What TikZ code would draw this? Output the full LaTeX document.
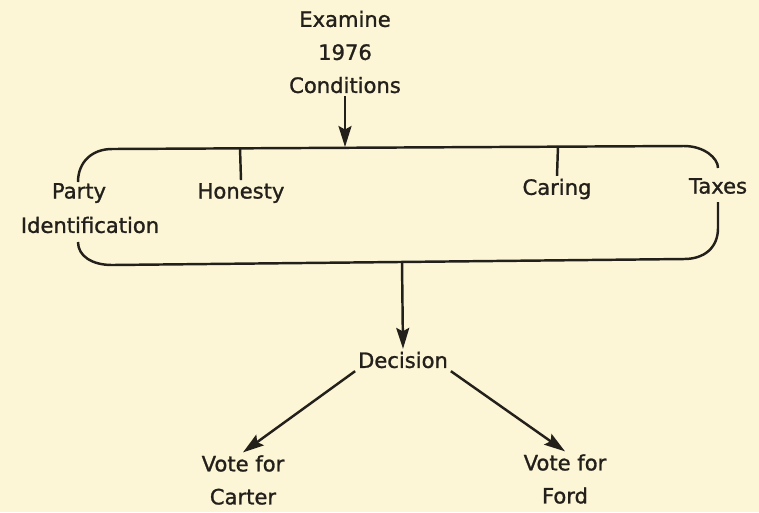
\documentclass[tikz,border=0pt]{standalone}
\usepackage{fontspec}
\setmainfont[FakeBold=1.2]{DejaVu Sans}
\usetikzlibrary{arrows.meta}
\definecolor{paper}{RGB}{252,246,214}
\definecolor{ink}{RGB}{35,32,28}
\begin{document}
\begin{tikzpicture}[x=0.02cm,y=-0.02cm,
  lbl/.style={font=\fontsize{12}{18.8}\selectfont, text=ink, inner sep=1.5pt, align=center},
  conn/.style={draw=ink, line width=1.4pt},
  arr/.style={conn, -{Stealth[length=4.2mm,width=2.6mm,inset=0.7mm]}}]
\fill[paper] (0,0) rectangle (759,512);
\useasboundingbox (0,0) rectangle (759,512);
% enclosing rounded outline, open where side labels interrupt it
\draw[conn] (78,182) .. controls (78,162) and (92,149) .. (112,149) -- (684,146)
  .. controls (704,146) and (718,158) .. (718,168);
\draw[conn] (718,202) -- (718,228) .. controls (718,248) and (704,259) .. (684,259)
  -- (112,265) .. controls (92,265) and (78,256) .. (78,242);
% top
\node[lbl] (exam) at (345,52) {Examine\\1976\\Conditions};
\coordinate (tin) at (345,147);
\draw[arr] (exam.south) -- (tin);
% factors
\node[lbl] (party) at (79,193) {Party};
\node[lbl] (ident) at (90,225) {Identification};
\node[lbl] (hon) at (241,193) {Honesty};
\coordinate (hont) at (240,148);
\draw[conn] (hont) -- (hon.north);
\node[lbl] (car) at (557,189) {Caring};
\coordinate (cart) at (558,146);
\draw[conn] (cart) -- (car.north);
\node[lbl] (tax) at (718,186) {Taxes};
% decision
\coordinate (bout) at (402,262);
\node[lbl] (dec) at (403,360) {Decision};
\draw[arr] (bout) -- (dec.north);
\node[lbl] (vc) at (243,480) {Vote for\\Carter};
\node[lbl] (vf) at (565,479) {Vote for\\Ford};
\draw[arr] (dec.south west) -- (vc.north);
\draw[arr] (dec.south east) -- (vf.north);
\end{tikzpicture}
\end{document}
